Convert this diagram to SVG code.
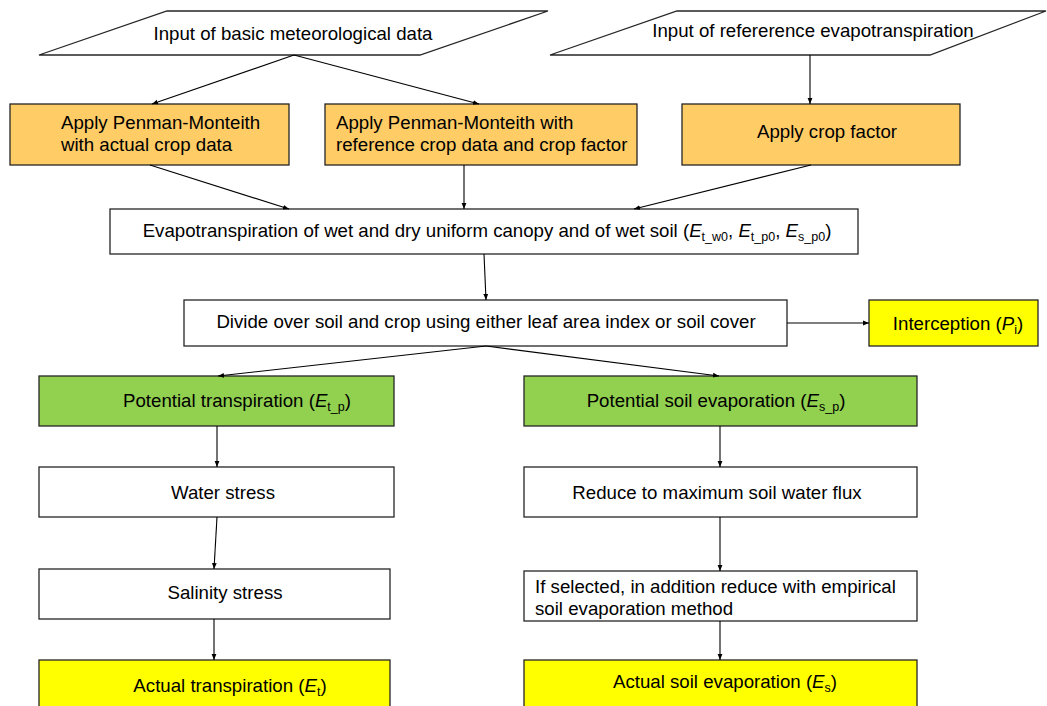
<svg xmlns="http://www.w3.org/2000/svg" width="1047" height="706" viewBox="0 0 1047 706">
<style>
text{font-family:"Liberation Sans",Arial,sans-serif;font-size:18.67px;fill:#000}
.c{text-anchor:middle}
.box{stroke:#262626;stroke-width:1.3}
.w{fill:#fff}.o{fill:#FFCC66}.g{fill:#92D050}.y{fill:#FFFF00}
.sub{font-size:12.5px}
.i{font-style:italic}
#connectors line{stroke:#000;stroke-width:1.1;marker-end:url(#ah)}
</style>
<defs>
<marker id="ah" viewBox="0 0 10 10" refX="10" refY="5" markerWidth="6" markerHeight="6" orient="auto" markerUnits="userSpaceOnUse">
<path d="M0,1 L10,5 L0,9 z" fill="#000"/>
</marker>
</defs>
<rect width="1047" height="706" fill="#fff"/>
<g id="n1"><polygon class="box w" points="167,11 548,11 420,55 39,55"/><text class="c" x="293" y="40">Input of basic meteorological data</text></g>
<g id="n2"><polygon class="box w" points="677,11 1046,11 930,55 550,55"/><text class="c" x="813" y="37">Input of refererence evapotranspiration</text></g>
<g id="n3"><rect class="box o" x="10" y="104" width="279" height="61"/><text x="61" y="129">Apply Penman-Monteith</text><text x="61" y="151">with actual crop data</text></g>
<g id="n4"><rect class="box o" x="325" y="104" width="312" height="61"/><text x="336" y="129">Apply Penman-Monteith with</text><text x="336" y="151">reference crop data and crop factor</text></g>
<g id="n5"><rect class="box o" x="682" y="104" width="278" height="61"/><text class="c" x="827" y="138">Apply crop factor</text></g>
<g id="n6"><rect class="box w" x="110" y="209" width="748" height="45"/><text class="c" x="487" y="237">Evapotranspiration of wet and dry uniform canopy and of wet soil (<tspan class="i">E</tspan><tspan class="sub" dy="4">t_w0</tspan><tspan dy="-4">, </tspan><tspan class="i">E</tspan><tspan class="sub" dy="4">t_p0</tspan><tspan dy="-4">, </tspan><tspan class="i">E</tspan><tspan class="sub" dy="4">s_p0</tspan><tspan dy="-4">)</tspan></text></g>
<g id="n7"><rect class="box w" x="184" y="300" width="603" height="46"/><text class="c" x="486" y="328">Divide over soil and crop using either leaf area index or soil cover</text></g>
<g id="n8"><rect class="box y" x="869" y="300" width="169" height="46"/><text class="c" x="958" y="330">Interception (<tspan class="i">P</tspan><tspan class="sub" dy="4">i</tspan><tspan dy="-4">)</tspan></text></g>
<g id="n9"><rect class="box g" x="39" y="376" width="355" height="50"/><text class="c" x="237" y="407">Potential transpiration (<tspan class="i">E</tspan><tspan class="sub" dy="4">t_p</tspan><tspan dy="-4">)</tspan></text></g>
<g id="n10"><rect class="box g" x="524" y="376" width="393" height="50"/><text class="c" x="716" y="407">Potential soil evaporation (<tspan class="i">E</tspan><tspan class="sub" dy="4">s_p</tspan><tspan dy="-4">)</tspan></text></g>
<g id="n11"><rect class="box w" x="39" y="467" width="355" height="50"/><text class="c" x="223" y="499">Water stress</text></g>
<g id="n12"><rect class="box w" x="524" y="467" width="393" height="50"/><text class="c" x="717" y="499">Reduce to maximum soil water flux</text></g>
<g id="n13"><rect class="box w" x="39" y="569" width="351" height="50"/><text class="c" x="225" y="599">Salinity stress</text></g>
<g id="n14"><rect class="box w" x="524" y="571" width="393" height="50"/><text x="535" y="593">If selected, in addition reduce with empirical</text><text x="535" y="615">soil evaporation method</text></g>
<g id="n15"><rect class="box y" x="39" y="660" width="351" height="60"/><text class="c" x="230" y="692">Actual transpiration (<tspan class="i">E</tspan><tspan class="sub" dy="4">t</tspan><tspan dy="-4">)</tspan></text></g>
<g id="n16"><rect class="box y" x="524" y="660" width="393" height="60"/><text class="c" x="725" y="688">Actual soil evaporation (<tspan class="i">E</tspan><tspan class="sub" dy="4">s</tspan><tspan dy="-4">)</tspan></text></g>
<g id="connectors">
<line x1="294" y1="55" x2="152" y2="104"/>
<line x1="294" y1="55" x2="479" y2="104"/>
<line x1="810" y1="55" x2="810" y2="104"/>
<line x1="150" y1="165" x2="289" y2="209"/>
<line x1="464" y1="165" x2="464" y2="209"/>
<line x1="811" y1="165" x2="634" y2="209"/>
<line x1="484" y1="254" x2="486" y2="300"/>
<line x1="787" y1="323" x2="869" y2="323"/>
<line x1="486" y1="346" x2="218" y2="376"/>
<line x1="486" y1="346" x2="719" y2="376"/>
<line x1="217" y1="426" x2="217" y2="467"/>
<line x1="720" y1="426" x2="720" y2="467"/>
<line x1="217" y1="517" x2="214" y2="569"/>
<line x1="720" y1="517" x2="720" y2="571"/>
<line x1="214" y1="619" x2="214" y2="660"/>
<line x1="720" y1="621" x2="720" y2="660"/>
</g>
</svg>
